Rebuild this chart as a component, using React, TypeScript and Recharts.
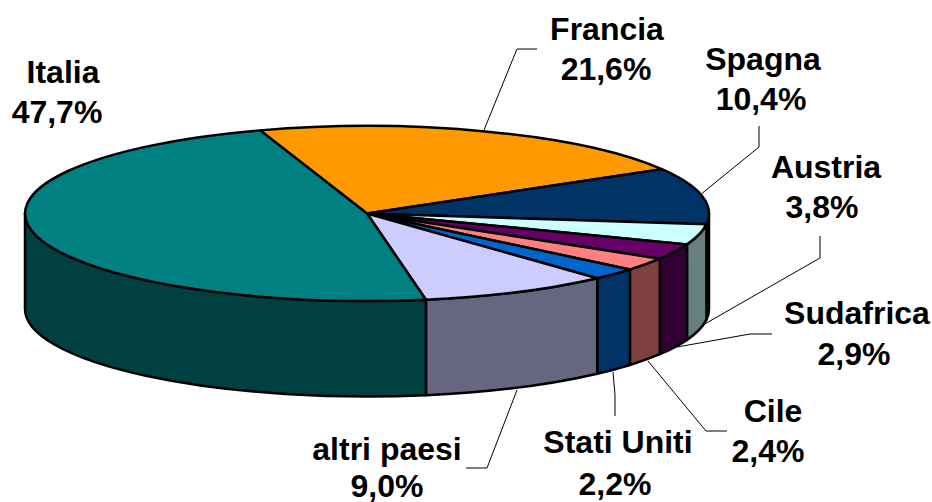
import { PieChart, Pie } from 'recharts'

const countries = ['Francia', 'Spagna', 'Austria', 'Sudafrica', 'Cile', 'Stati Uniti', 'altri paesi', 'Italia']
const shares = [21.6, 10.4, 3.8, 2.9, 2.4, 2.2, 9.0, 47.7]

const topColors = ['#FF9900', '#003366', '#CCFFFF', '#660066', '#FF8080', '#0066CC', '#CCCCFF', '#008080']
const wallColors = ['#804D00', '#001933', '#668080', '#330033', '#804040', '#003366', '#666680', '#004040']

// name x, name baseline, percent x, percent baseline
const labelPos = [
  [607, 40, 606, 80],
  [763, 70, 761, 110],
  [826, 178, 822, 218],
  [857, 324, 854, 365],
  [773, 422, 768, 462],
  [618, 453, 615, 495],
  [387, 460, 387, 497],
  [63, 83, 57, 123],
]

const leaderLines = [
  '484,130 517,49 537,49',
  '759,126 759,147 700,195',
  '820,236 820,258 703,325',
  '772,334 750,334 677,347',
  '727,431 706,431 648,361',
  '615,416 615,395 613,372',
  '466,468 487,468 517,390',
  '',
]

const TILT = 87.5 / 342
const DEPTH = 95.5

const data = countries.map((name, i) => ({
  name,
  value: shares[i],
  fill: topColors[i],
  wall: wallColors[i],
}))

const fmtPct = (v: number) => v.toFixed(1).replace('.', ',') + '%'

function pt(cx: number, cy: number, r: number, deg: number, dy = 0) {
  const a = (deg * Math.PI) / 180
  return `${cx + r * Math.cos(a)} ${cy - r * TILT * Math.sin(a) + dy}`
}

// recharts gives the circular angles, we flatten them to an ellipse and add the side wall
function TiltedSector(props: any) {
  const { cx, cy, outerRadius: r, startAngle, endAngle, fill, payload } = props
  const ry = r * TILT
  const large = startAngle - endAngle > 180 ? 1 : 0

  // wall is only visible on the front half
  const wallStart = Math.min(startAngle, 0)
  const wallEnd = Math.max(endAngle, -180)
  const hasWall = wallStart > wallEnd

  return (
    <g>
      {hasWall && (
        <path
          d={`M ${pt(cx, cy, r, wallStart)} A ${r} ${ry} 0 0 1 ${pt(cx, cy, r, wallEnd)}
              L ${pt(cx, cy, r, wallEnd, DEPTH)} A ${r} ${ry} 0 0 0 ${pt(cx, cy, r, wallStart, DEPTH)} Z`}
          fill={payload.wall}
          stroke="#000"
          strokeWidth={2.5}
          strokeLinejoin="round"
        />
      )}
      <path
        d={`M ${cx} ${cy} L ${pt(cx, cy, r, startAngle)} A ${r} ${ry} 0 ${large} 1 ${pt(cx, cy, r, endAngle)} Z`}
        fill={fill}
        stroke="#000"
        strokeWidth={2.5}
        strokeLinejoin="round"
      />
    </g>
  )
}

function SliceLabel({ index }: any) {
  const [x1, y1, x2, y2] = labelPos[index]
  const style = { fontFamily: '"Liberation Sans", Arial, sans-serif', fontSize: 32, fontWeight: 700 }
  return (
    <g>
      {leaderLines[index] && <polyline points={leaderLines[index]} fill="none" stroke="#000" strokeWidth={1} />}
      <text x={x1} y={y1} textAnchor="middle" fill="#000" style={style}>{countries[index]}</text>
      <text x={x2} y={y2} textAnchor="middle" fill="#000" style={style}>{fmtPct(shares[index])}</text>
    </g>
  )
}

export default function App() {
  return (
    <div style={{ position: 'absolute', left: 0, top: 0, width: 932, height: 502, background: '#fff', overflow: 'hidden' }}>
      <PieChart width={932} height={502} margin={{ top: 0, right: 0, bottom: 0, left: 0 }}>
        <Pie
          data={data}
          dataKey="value"
          nameKey="name"
          cx={367}
          cy={213.5}
          outerRadius={342}
          startAngle={108.2}
          endAngle={-251.8}
          shape={TiltedSector}
          label={SliceLabel}
          labelLine={false}
          isAnimationActive={false}
        />
      </PieChart>
    </div>
  )
}
